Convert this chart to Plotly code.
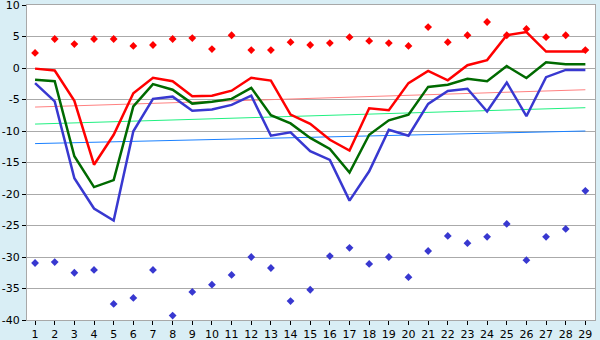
import plotly.graph_objects as go

days = list(range(1, 30))
y_ticks = [10, 5, 0, -5, -10, -15, -20, -25, -30, -35, -40]
y_labels = ["10", "5", "0", "-5", "-10", "-15", "-20", "-25", "-30", "-35", "-40"]

red_pts = [2.4, 4.6, 3.8, 4.6, 4.6, 3.5, 3.65, 4.6, 4.75, 3.0,
           5.2, 2.85, 2.85, 4.1, 3.65, 3.95, 4.9, 4.3, 3.95, 3.5,
           6.5, 4.1, 5.2, 7.3, 5.2, 6.2, 4.9, 5.2, 2.85]
red_line = [-0.1, -0.4, -5.2, -15.35, -10.6, -4.0, -1.55, -2.1, -4.5, -4.4,
            -3.6, -1.55, -2.0, -7.4, -8.85, -11.4, -13.1, -6.4, -6.7, -2.4,
            -0.45, -1.95, 0.45, 1.25, 5.2, 5.7, 2.6, 2.6, 2.6]
green_line = [-1.85, -2.1, -14.0, -18.9, -17.8, -6.1, -2.55, -3.45, -5.65, -5.35,
              -4.9, -3.15, -7.5, -8.8, -11.1, -12.85, -16.6, -10.6, -8.3, -7.4,
              -3.0, -2.65, -1.7, -2.1, 0.3, -1.6, 0.9, 0.6, 0.6]
blue_line = [-2.4, -5.3, -17.5, -22.3, -24.2, -10.05, -4.9, -4.55, -6.8, -6.6,
             -5.85, -4.4, -10.75, -10.2, -13.2, -14.6, -21.05, -16.4, -9.8, -10.75,
             -5.7, -3.65, -3.3, -6.9, -2.3, -7.65, -1.45, -0.3, -0.3]
blue_pts = [-30.95, -30.8, -32.5, -32.05, -37.45, -36.5, -32.05, -39.3, -35.55, -34.4,
            -32.85, -30.0, -31.75, -37.0, -35.2, -29.85, -28.55, -31.1, -30.0, -33.2,
            -29.05, -26.65, -27.8, -26.8, -24.75, -30.5, -26.8, -25.55, -19.5]

trend_x = [1, 29]
trend_red = [-6.2, -3.45]
trend_green = [-8.9, -6.3]
trend_blue = [-12.0, -10.0]

fig = go.Figure()
fig.add_trace(go.Scatter(x=trend_x, y=trend_red, mode="lines",
                         line=dict(color="#ff8080", width=1)))
fig.add_trace(go.Scatter(x=trend_x, y=trend_green, mode="lines",
                         line=dict(color="#20f080", width=1)))
fig.add_trace(go.Scatter(x=trend_x, y=trend_blue, mode="lines",
                         line=dict(color="#1a80ff", width=1)))
fig.add_trace(go.Scatter(x=days, y=red_line, mode="lines",
                         line=dict(color="#ff0000", width=2.5)))
fig.add_trace(go.Scatter(x=days, y=green_line, mode="lines",
                         line=dict(color="#006a00", width=2.5)))
fig.add_trace(go.Scatter(x=days, y=blue_line, mode="lines",
                         line=dict(color="#3838d0", width=2.5)))
fig.add_trace(go.Scatter(x=days, y=red_pts, mode="markers",
                         marker=dict(symbol="diamond", size=6, color="#ff0000")))
fig.add_trace(go.Scatter(x=days, y=blue_pts, mode="markers",
                         marker=dict(symbol="diamond", size=6, color="#3838d0")))

fig.update_layout(
    width=600, height=340,
    margin=dict(l=27, r=5, t=5, b=20, autoexpand=False),
    paper_bgcolor="#d9eef5",
    plot_bgcolor="#ffffff",
    showlegend=False,
    font=dict(family="DejaVu Sans", size=11, color="#000000"),
)
fig.update_xaxes(
    range=[0.59, 29.49], tickmode="array", tickvals=days,
    ticktext=[str(d) for d in days], automargin=False,
    ticklabeloverflow="allow",
    showgrid=False, zeroline=False,
    showline=True, linecolor="#a8a8a8", linewidth=1, mirror=True,
    ticks="outside", ticklen=4, tickcolor="#000000", tickwidth=1,
)
fig.update_yaxes(
    range=[-40, 10], tickmode="array", tickvals=y_ticks, ticktext=y_labels,
    automargin=False, ticklabeloverflow="allow",
    showgrid=True, gridcolor="#aaaaaa", gridwidth=1, zeroline=False,
    showline=True, linecolor="#a8a8a8", linewidth=1, mirror=True,
    ticks="outside", ticklen=4, tickcolor="#000000", tickwidth=1,
)

fig.write_html(
    "out.html",
    config={"displayModeBar": False},
    post_script="document.body.style.margin='0';document.body.style.padding='0';document.body.style.overflow='hidden';",
)
